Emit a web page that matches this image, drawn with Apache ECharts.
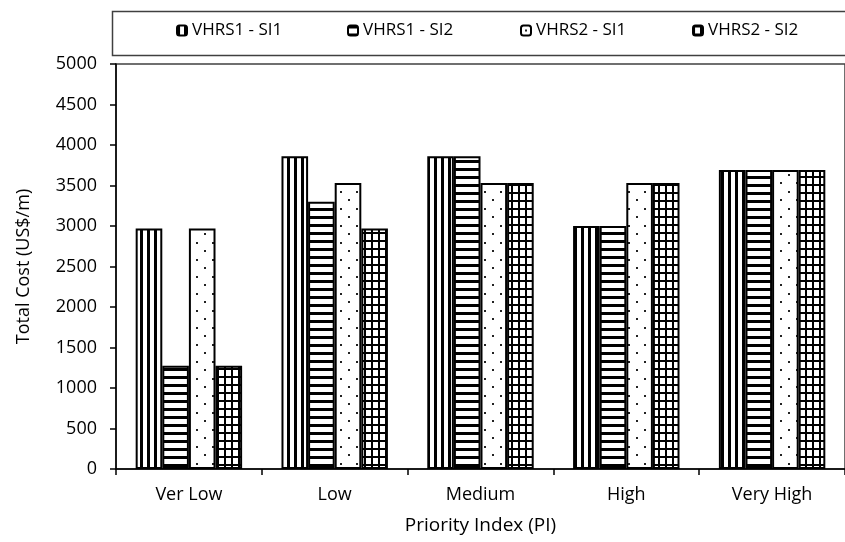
<!DOCTYPE html>
<html>
<head>
<meta charset="utf-8">
<script src="https://cdn.jsdelivr.net/npm/echarts@6/dist/echarts.min.js"></script>
<style>
html,body{margin:0;padding:0;background:#fff;}
#chart{width:845px;height:542px;}
</style>
</head>
<body>
<div id="chart"></div>
<script>
// ---- data ----
var categories = ['Ver Low', 'Low', 'Medium', 'High', 'Very High'];
var seriesNames = ['VHRS1 - SI1', 'VHRS1 - SI2', 'VHRS2 - SI1', 'VHRS2 - SI2'];
var vhrs1Si1 = [2970, 3860, 3860, 3000, 3690];
var vhrs1Si2 = [1275, 3300, 3860, 3000, 3690];
var vhrs2Si1 = [2970, 3530, 3530, 3530, 3690];
var vhrs2Si2 = [1275, 2970, 3530, 3530, 3690];
var yTicks = [0, 500, 1000, 1500, 2000, 2500, 3000, 3500, 4000, 4500, 5000];

// ---- fill patterns ----
function makePattern(w, h, draw) {
  var c = document.createElement('canvas');
  c.width = w; c.height = h;
  var ctx = c.getContext('2d');
  ctx.fillStyle = '#fff';
  ctx.fillRect(0, 0, w, h);
  draw(ctx);
  return { image: c, repeat: 'repeat' };
}
var patVert = makePattern(7, 7, function (ctx) {
  ctx.fillStyle = '#000'; ctx.fillRect(0, 0, 3, 7);
});
var patHorz = makePattern(8, 8, function (ctx) {
  ctx.fillStyle = '#000'; ctx.fillRect(0, 0, 8, 3);
});
var patDots = makePattern(16, 17, function (ctx) {
  ctx.fillStyle = '#222';
  ctx.fillRect(4, 4, 2, 2);
  ctx.fillRect(12, 12, 2, 2);
});
var patGrid = makePattern(7, 8, function (ctx) {
  ctx.fillStyle = '#000';
  ctx.fillRect(0, 0, 2, 8);
  ctx.fillRect(0, 0, 7, 2);
});
var patterns = [patVert, patHorz, patDots, patGrid];
var values = [vhrs1Si1, vhrs1Si2, vhrs2Si1, vhrs2Si2];

var FONT = 'Open Sans';
var legendLeft = [176, 347, 520, 692];

var chart = echarts.init(document.getElementById('chart'), null, { renderer: 'canvas' });

var series = seriesNames.map(function (name, i) {
  return {
    name: name,
    type: 'bar',
    data: values[i],
    barGap: '0%',
    barCategoryGap: '27%',
    itemStyle: { color: patterns[i], borderColor: '#000', borderWidth: 2 },
    emphasis: { disabled: true },
    animation: false
  };
});

var legends = seriesNames.map(function (name, i) {
  return {
    data: [name],
    left: legendLeft[i],
    top: 22,
    orient: 'horizontal',
    itemWidth: 10,
    itemHeight: 10,
    itemGap: 5,
    padding: 0,
    selectedMode: false,
    textStyle: { fontFamily: FONT, fontSize: 17, color: '#000', padding: [0, 0, 0, 0] }
  };
});

chart.setOption({
  animation: false,
  backgroundColor: '#fff',
  textStyle: { fontFamily: FONT },
  legend: legends,
  graphic: [{
    type: 'rect',
    left: 110, top: 9,
    shape: { x: 0, y: 0, width: 760, height: 44 },
    style: { fill: 'none', stroke: '#404040', lineWidth: 1.5 },
    silent: true
  }],
  grid: {
    left: 116, right: -11, top: 64, bottom: 73,
    show: true, borderColor: '#404040', borderWidth: 1.5, backgroundColor: 'transparent'
  },
  xAxis: {
    type: 'category',
    data: categories,
    name: 'Priority Index (PI)',
    nameLocation: 'middle',
    nameGap: 47,
    nameTextStyle: { fontFamily: FONT, fontSize: 19, color: '#000' },
    axisLine: { lineStyle: { color: '#000', width: 1.5 } },
    axisTick: { show: true, length: 6, lineStyle: { color: '#000', width: 1.5 } },
    axisLabel: { fontFamily: FONT, fontSize: 18, color: '#000', margin: 17 },
    splitLine: { show: false }
  },
  yAxis: {
    type: 'value',
    min: yTicks[0],
    max: yTicks[yTicks.length - 1],
    interval: yTicks[1] - yTicks[0],
    name: 'Total Cost (US$/m)',
    nameLocation: 'middle',
    nameGap: 83,
    nameTextStyle: { fontFamily: FONT, fontSize: 18, color: '#000' },
    axisLine: { show: true, lineStyle: { color: '#000', width: 1.5 } },
    axisTick: { show: true, length: 6, lineStyle: { color: '#000', width: 1.5 } },
    axisLabel: {
      fontFamily: FONT, fontSize: 18, color: '#000', margin: 19,
      formatter: function (v) { return String(v); }
    },
    splitLine: { show: false }
  },
  series: series
});
</script>
</body>
</html>
